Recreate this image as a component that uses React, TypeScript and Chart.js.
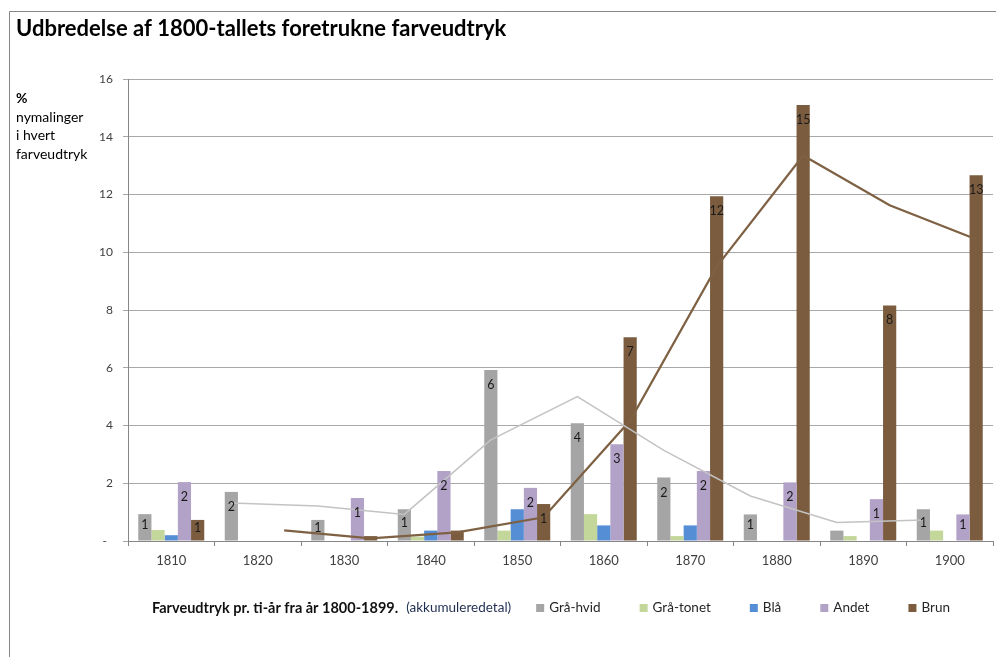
import React, { useEffect, useRef } from 'react';
import { Chart, registerables } from 'chart.js';

Chart.register(...registerables);

// ---- data ----
const decades = ['1810', '1820', '1830', '1840', '1850', '1860', '1870', '1880', '1890', '1900'];
const graaHvid = [0.93, 1.7, 0.73, 1.1, 5.92, 4.08, 2.2, 0.92, 0.36, 1.1];
const graaTonet = [0.38, 0, 0, 0.15, 0.36, 0.93, 0.17, 0, 0.17, 0.36];
const blaa = [0.2, 0, 0, 0.36, 1.1, 0.54, 0.54, 0, 0, 0];
const andet = [2.04, 0, 1.49, 2.42, 1.84, 3.35, 2.42, 2.03, 1.45, 0.92];
const brun = [0.73, 0, 0.17, 0.36, 1.28, 7.06, 11.94, 15.1, 8.16, 12.67];
// trend lines as drawn in the picture
const graaHvidTrend: (number | null)[] = [null, 1.32, 1.21, 0.92, 3.5, 5.0, 3.14, 1.56, 0.64, 0.73];
const brunTrend: (number | null)[] = [null, 0.37, 0.09, 0.3, 0.82, 4.17, 9.5, 13.35, 11.63, 10.45];
const seriesNames = ['Grå-hvid', 'Grå-tonet', 'Blå', 'Andet', 'Brun'];
const yTicks = [0, 2, 4, 6, 8, 10, 12, 14, 16];

const titleText = 'Udbredelse af 1800-tallets foretrukne farveudtryk';
const yCaption = ['%', 'nymalinger', 'i hvert', 'farveudtryk'];
const legendLead = 'Farveudtryk pr. ti-år fra år 1800-1899.';
const legendNote = '(akkumuleredetal)';

const colors = ['#a5a5a5', '#c4d79b', '#558ed5', '#b3a2c7', '#7b5c3e'];
const FONT = 'Lato, "Open Sans", sans-serif';
const CAT_PCT = 0.763;
const labelledSeries = [0, 3, 4];

function App() {
  const ref = useRef<HTMLCanvasElement | null>(null);

  useEffect(() => {
    const canvas = ref.current;
    if (!canvas) return;
    const nBars = seriesNames.length;
    const barOffset = (k: number) => -CAT_PCT / 2 + (CAT_PCT / nBars) * (k + 0.5);

    const barData = [graaHvid, graaTonet, blaa, andet, brun];
    const barPoints = (arr: number[]) => arr.map((v, i) => ({ x: i, y: v }));
    const linePoints = (arr: (number | null)[], k: number) =>
      arr
        .map((v, i) => (v === null ? null : { x: i + barOffset(k), y: v }))
        .filter((p) => p !== null);

    const decorPlugin = {
      id: 'decor',
      beforeDraw(chart: any) {
        const ctx = chart.ctx as CanvasRenderingContext2D;
        ctx.save();
        ctx.fillStyle = '#ffffff';
        ctx.fillRect(0, 0, chart.width, chart.height);
        ctx.strokeStyle = '#868686';
        ctx.lineWidth = 1;
        ctx.beginPath();
        ctx.moveTo(9.5, chart.height);
        ctx.lineTo(9.5, 11.5);
        ctx.lineTo(chart.width, 11.5);
        ctx.stroke();

        // title
        ctx.fillStyle = '#000000';
        ctx.font = `bold 22px ${FONT}`;
        ctx.textAlign = 'left';
        ctx.textBaseline = 'alphabetic';
        ctx.fillText(titleText, 16, 36);

        // y caption
        ctx.fillStyle = '#000000';
        ctx.textBaseline = 'middle';
        yCaption.forEach((t, i) => {
          ctx.font = i === 0 ? `bold 14px ${FONT}` : `14px ${FONT}`;
          ctx.fillText(t, 16, 98.5 + i * 18.5);
        });

        // legend
        const ly = 608;
        let x = 152;
        ctx.font = `bold 14.5px ${FONT}`;
        ctx.fillStyle = '#111111';
        ctx.fillText(legendLead, x, ly);
        x += ctx.measureText(legendLead).width + 8;
        ctx.font = `13.5px ${FONT}`;
        ctx.fillStyle = '#1f2d50';
        ctx.fillText(legendNote, x, ly);
        x += ctx.measureText(legendNote).width + 25;
        seriesNames.forEach((name, i) => {
          ctx.fillStyle = colors[i];
          ctx.fillRect(x, ly - 4, 8, 8);
          x += 13;
          ctx.fillStyle = '#262626';
          ctx.font = `13.5px ${FONT}`;
          ctx.fillText(name, x, ly);
          x += ctx.measureText(name).width + 39;
        });
        ctx.restore();
      },
      afterDatasetsDraw(chart: any) {
        const ctx = chart.ctx as CanvasRenderingContext2D;
        ctx.save();
        ctx.font = `12.5px ${FONT}`;
        ctx.fillStyle = '#1a1a1a';
        ctx.textAlign = 'center';
        ctx.textBaseline = 'middle';
        labelledSeries.forEach((di) => {
          const meta = chart.getDatasetMeta(di);
          const values = barData[di];
          meta.data.forEach((bar: any, j: number) => {
            const r = Math.round(values[j]);
            if (r < 1) return;
            const p = bar.getProps(['x', 'y', 'base'], true);
            const ty = Math.min(p.y + 15, (p.y + p.base) / 2 - 2);
            ctx.fillText(String(r), p.x, ty);
          });
        });
        ctx.restore();
      },
    };

    const chart = new Chart(canvas, {
      type: 'bar',
      data: {
        datasets: [
          ...barData.map((d, i) => ({
            type: 'bar' as const,
            label: seriesNames[i],
            data: barPoints(d) as any,
            backgroundColor: colors[i],
            borderWidth: 0,
            categoryPercentage: CAT_PCT,
            barPercentage: 1,
            order: 2,
          })),
          {
            type: 'line' as const,
            label: 'Grå-hvid trend',
            data: linePoints(graaHvidTrend, 0) as any,
            borderColor: '#c3c3c3',
            borderWidth: 1.5,
            pointRadius: 0,
            tension: 0,
            order: 1,
          },
          {
            type: 'line' as const,
            label: 'Brun trend',
            data: linePoints(brunTrend, 4) as any,
            borderColor: '#7e6143',
            borderWidth: 2.2,
            pointRadius: 0,
            tension: 0,
            order: 1,
          },
        ],
      },
      options: {
        responsive: false,
        animation: false,
        layout: { padding: { left: 0, top: 79, right: 3, bottom: 0 } },
        plugins: {
          legend: { display: false },
          title: { display: false },
          tooltip: { enabled: false },
        },
        scales: {
          x: {
            type: 'linear',
            offset: false,
            min: -0.5,
            max: decades.length - 0.5,
            afterBuildTicks(scale: any) {
              scale.ticks = decades.map((_, i) => ({ value: i }));
            },
            grid: {
              offset: true,
              drawOnChartArea: false,
              drawTicks: true,
              tickLength: 5,
              color: '#868686',
            },
            border: { display: true, color: '#868686' },
            ticks: {
              font: { family: FONT, size: 13 },
              color: '#404040',
              padding: 7,
              maxRotation: 0,
              autoSkip: false,
              callback: (v: any) => decades[Math.round(Number(v))] ?? '',
            },
            afterFit(scale: any) {
              scale.height = 116;
            },
          },
          y: {
            type: 'linear',
            min: yTicks[0],
            max: yTicks[yTicks.length - 1],
            afterBuildTicks(scale: any) {
              scale.ticks = yTicks.map((v) => ({ value: v }));
            },
            grid: {
              color: '#a8a8a8',
              tickLength: 5,
              drawTicks: true,
            },
            border: { display: true, color: '#868686' },
            ticks: {
              font: { family: FONT, size: 12 },
              color: '#404040',
              padding: 10,
              callback: (v: any) => (Number(v) === 0 ? '-  ' : String(v)),
            },
            afterFit(scale: any) {
              scale.width = 128;
            },
          },
        },
      },
      plugins: [decorPlugin],
    });

    return () => chart.destroy();
  }, []);

  return (
    <div style={{ position: 'fixed', left: 0, top: 0, width: 996, height: 657, background: '#fff' }}>
      <canvas ref={ref} width={996} height={657} style={{ display: 'block', width: 996, height: 657 }} />
    </div>
  );
}

export default App;
